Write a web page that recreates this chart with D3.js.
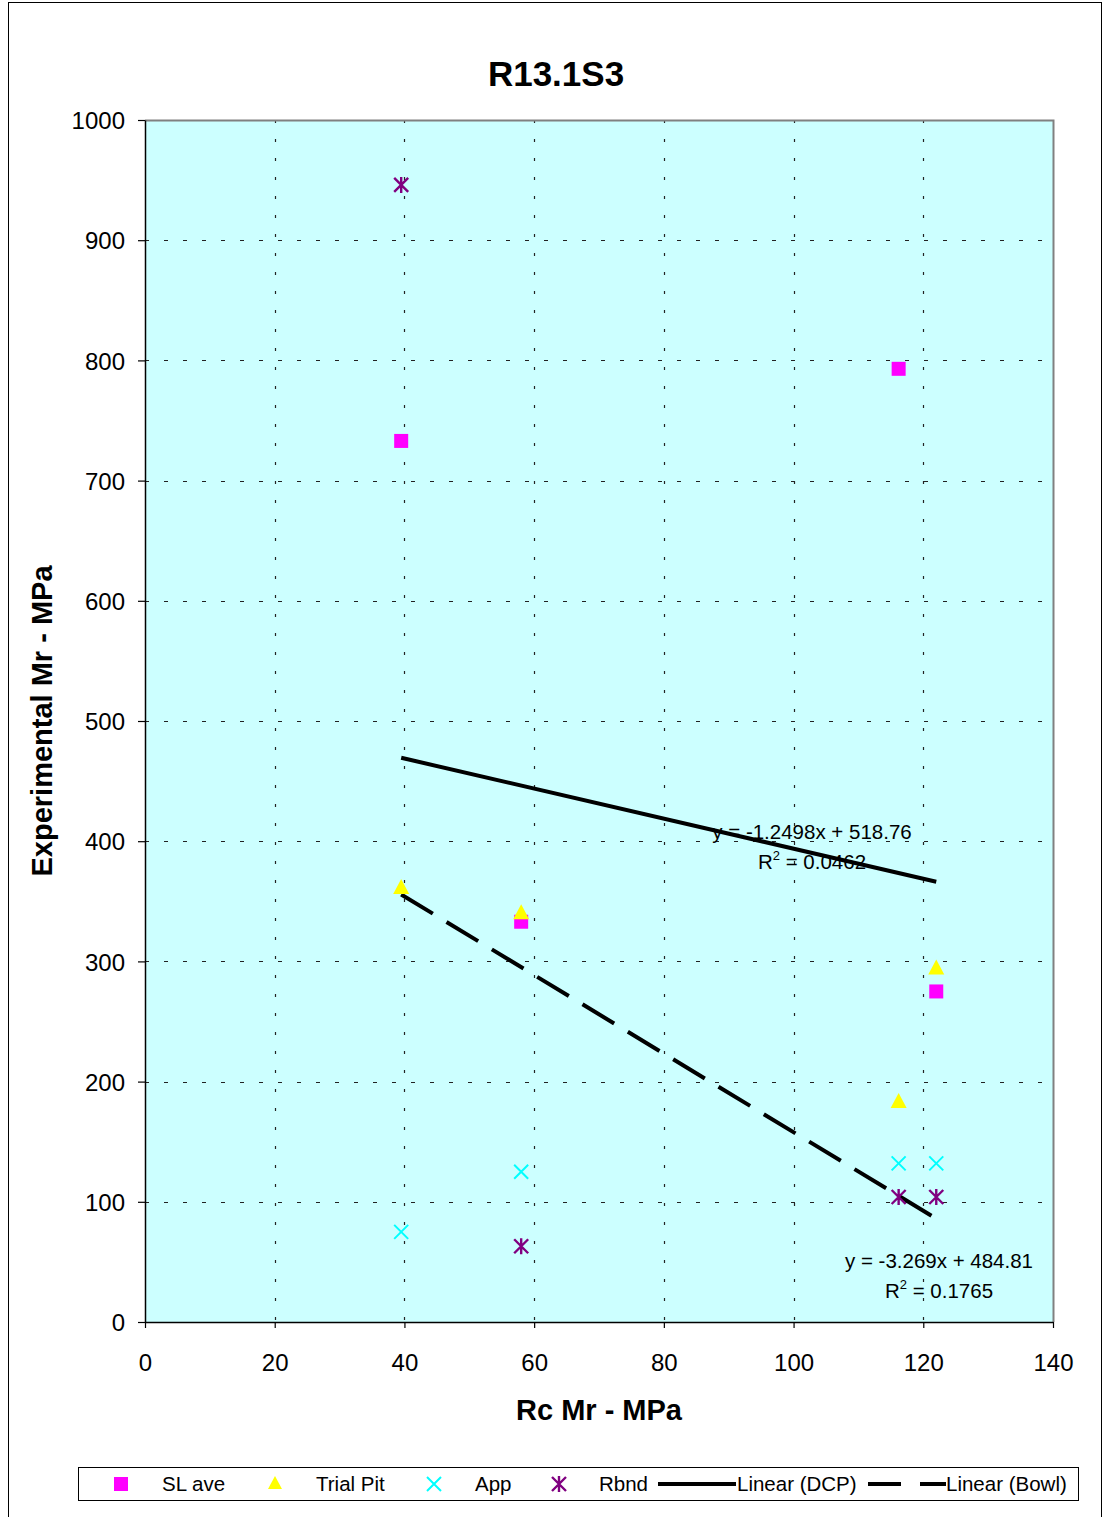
<!DOCTYPE html>
<html>
<head>
<meta charset="utf-8">
<script src="https://cdn.jsdelivr.net/npm/d3@7"></script>
<style>
  html, body { margin: 0; padding: 0; background: #fff; }
  svg { display: block; font-family: "Liberation Sans", Arial, sans-serif; }
</style>
</head>
<body>
<svg id="chart" width="1104" height="1517"></svg>
<script>
// Measured resilient modulus: Rc Mr on x, experimental Mr per method on y
const xValues = [39.5, 58, 116.2, 122];
const slAve = [733, 333, 793, 275];
const trialPit = [361, 340, 183, 294];
const app = [75, 125, 132, 132];
const rbnd = [946, 63, 104, 104];

const seriesNames = ["SL ave", "Trial Pit", "App", "Rbnd"];
const seriesColors = ["#FF00FF", "#FFFF00", "#00FFFF", "#800080"];
const seriesShapes = ["square", "triangle", "cross", "star"];
const seriesValues = [slAve, trialPit, app, rbnd];

// Linear trend lines
const trendNames = ["Linear (DCP)", "Linear (Bowl)"];
const trendSlopes = [-1.2498, -3.269];
const trendIntercepts = [518.76, 484.81];
const trendR2 = ["0.0462", "0.1765"];

const xTicks = [0, 20, 40, 60, 80, 100, 120, 140];
const yTicks = [0, 100, 200, 300, 400, 500, 600, 700, 800, 900, 1000];

const svg = d3.select("#chart");

// Outer chart border
svg.append("rect").attr("x", 8.5).attr("y", 2.5).attr("width", 1093).attr("height", 1520)
  .attr("fill", "#fff").attr("stroke", "#000").attr("stroke-width", 1);

const plot = { left: 145, top: 120, right: 1053, bottom: 1322 };
const x = d3.scaleLinear().domain([0, 140]).range([plot.left, plot.right]);
const y = d3.scaleLinear().domain([0, 1000]).range([plot.bottom, plot.top]);

// Plot background
svg.append("rect").attr("x", plot.left).attr("y", plot.top)
  .attr("width", plot.right - plot.left).attr("height", plot.bottom - plot.top)
  .attr("fill", "#CCFFFF");

// Grid lines
const grid = svg.append("g");
grid.selectAll(".vg").data(xTicks.filter(t => t > 0 && t < 140)).enter().append("line")
  .attr("x1", d => Math.round(x(d)) + 0.5).attr("x2", d => Math.round(x(d)) + 0.5)
  .attr("y1", plot.top).attr("y2", plot.bottom)
  .attr("stroke", "#222").attr("stroke-width", 1.2).attr("stroke-dasharray", "3,16");
grid.selectAll(".hg").data(yTicks.filter(t => t > 0 && t < 1000)).enter().append("line")
  .attr("y1", d => Math.round(y(d)) + 0.5).attr("y2", d => Math.round(y(d)) + 0.5)
  .attr("x1", plot.left).attr("x2", plot.right)
  .attr("stroke", "#222").attr("stroke-width", 1.2).attr("stroke-dasharray", "4,15");

// Plot frame (top/right grey)
svg.append("path")
  .attr("d", `M${plot.left},${plot.top + 0.5}H${plot.right + 0.5}V${plot.bottom}`)
  .attr("fill", "none").attr("stroke", "#808080").attr("stroke-width", 2);

// Axes
const xAxis = d3.axisBottom(x).tickValues(xTicks).tickFormat(d3.format("d"))
  .tickSize(6).tickSizeOuter(0).tickPadding(26);
const yAxis = d3.axisLeft(y).tickValues(yTicks).tickFormat(d3.format("d"))
  .tickSize(7).tickSizeOuter(0).tickPadding(13);

const gx = svg.append("g").attr("transform", `translate(0,${plot.bottom})`).call(xAxis);
const gy = svg.append("g").attr("transform", `translate(${plot.left},0)`).call(yAxis);
[gx, gy].forEach(g => {
  g.select(".domain").attr("stroke", "#000").attr("stroke-width", 1.5);
  g.selectAll(".tick line").attr("stroke", "#000").attr("stroke-width", 1.2);
  g.selectAll(".tick text").attr("font-family", "'Liberation Sans', Arial, sans-serif")
    .attr("font-size", 24).attr("fill", "#000");
});
gy.selectAll(".tick text").attr("dy", "0.36em");

// Trend lines
const xMin = d3.min(xValues), xMax = d3.max(xValues);
const trendDash = [null, "37,16"];
trendSlopes.forEach((m, i) => {
  const b = trendIntercepts[i];
  svg.append("line")
    .attr("x1", x(xMin)).attr("y1", y(m * xMin + b))
    .attr("x2", x(xMax)).attr("y2", y(m * xMax + b))
    .attr("stroke", "#000").attr("stroke-width", 4)
    .attr("stroke-dasharray", trendDash[i]);
});

// Marker drawing
function drawMarker(g, shape, color, cx, cy, s) {
  const h = s / 2;
  if (shape === "square") {
    g.append("rect").attr("x", cx - h).attr("y", cy - h).attr("width", s).attr("height", s)
      .attr("fill", color);
  } else if (shape === "triangle") {
    g.append("path").attr("d", `M${cx},${cy - h - 1}L${cx + h},${cy + h - 2}L${cx - h},${cy + h - 2}Z`)
      .attr("fill", color);
  } else if (shape === "cross") {
    g.append("path").attr("d", `M${cx - h},${cy - h}L${cx + h},${cy + h}M${cx - h},${cy + h}L${cx + h},${cy - h}`)
      .attr("stroke", color).attr("stroke-width", 2).attr("fill", "none");
  } else if (shape === "star") {
    g.append("path").attr("d", `M${cx - h},${cy - h}L${cx + h},${cy + h}M${cx - h},${cy + h}L${cx + h},${cy - h}M${cx},${cy - h - 1}L${cx},${cy + h + 1}`)
      .attr("stroke", color).attr("stroke-width", 2.4).attr("fill", "none");
  }
}
const markerSize = { square: 14, triangle: 16, cross: 14, star: 14 };

const marks = svg.append("g");
seriesValues.forEach((vals, si) => {
  vals.forEach((v, i) => {
    drawMarker(marks, seriesShapes[si], seriesColors[si], x(xValues[i]), y(v),
      markerSize[seriesShapes[si]]);
  });
});

// Trend equation labels
function eqLabel(cx, baseline, i) {
  const m = trendSlopes[i], b = trendIntercepts[i];
  svg.append("text").attr("x", cx).attr("y", baseline)
    .attr("text-anchor", "middle").attr("font-size", 20.5).attr("fill", "#000")
    .text(`y = ${m}x + ${b.toFixed(2)}`);
  const t2 = svg.append("text").attr("x", cx).attr("y", baseline + 30)
    .attr("text-anchor", "middle").attr("font-size", 20.5).attr("fill", "#000");
  t2.append("tspan").text("R");
  t2.append("tspan").attr("font-size", 13).attr("dy", -9).text("2");
  t2.append("tspan").attr("dy", 9).text(` = ${trendR2[i]}`);
}
eqLabel(812, 839, 0);
eqLabel(939, 1268, 1);

// Title and axis titles
svg.append("text").attr("x", 556).attr("y", 86).attr("text-anchor", "middle")
  .attr("font-size", 35).attr("font-weight", "bold").text("R13.1S3");
svg.append("text").attr("x", 599).attr("y", 1420).attr("text-anchor", "middle")
  .attr("font-size", 29).attr("font-weight", "bold").text("Rc Mr - MPa");
svg.append("text").attr("transform", `translate(52,${(plot.top + plot.bottom) / 2}) rotate(-90)`)
  .attr("text-anchor", "middle").attr("font-size", 29).attr("font-weight", "bold")
  .text("Experimental Mr - MPa");

// Legend
const leg = svg.append("g");
leg.append("rect").attr("x", 78.5).attr("y", 1467.5).attr("width", 1000).attr("height", 33)
  .attr("fill", "#fff").attr("stroke", "#000").attr("stroke-width", 1);
const legY = 1484;
const markerX = [121, 275, 434, 559];
const textX = [162, 316, 475, 599];
seriesNames.forEach((n, i) => {
  drawMarker(leg, seriesShapes[i], seriesColors[i], markerX[i], legY, 14);
  leg.append("text").attr("x", textX[i]).attr("y", legY + 7).attr("font-size", 20.5).text(n);
});
// DCP legend line
leg.append("line").attr("x1", 658).attr("x2", 736).attr("y1", legY).attr("y2", legY)
  .attr("stroke", "#000").attr("stroke-width", 4);
leg.append("text").attr("x", 737).attr("y", legY + 7).attr("font-size", 20.5).text(trendNames[0]);
// Bowl legend line
leg.append("line").attr("x1", 868).attr("x2", 946).attr("y1", legY).attr("y2", legY)
  .attr("stroke", "#000").attr("stroke-width", 4).attr("stroke-dasharray", "33,19,31");
leg.append("text").attr("x", 946).attr("y", legY + 7).attr("font-size", 20.5).text(trendNames[1]);
</script>
</body>
</html>
